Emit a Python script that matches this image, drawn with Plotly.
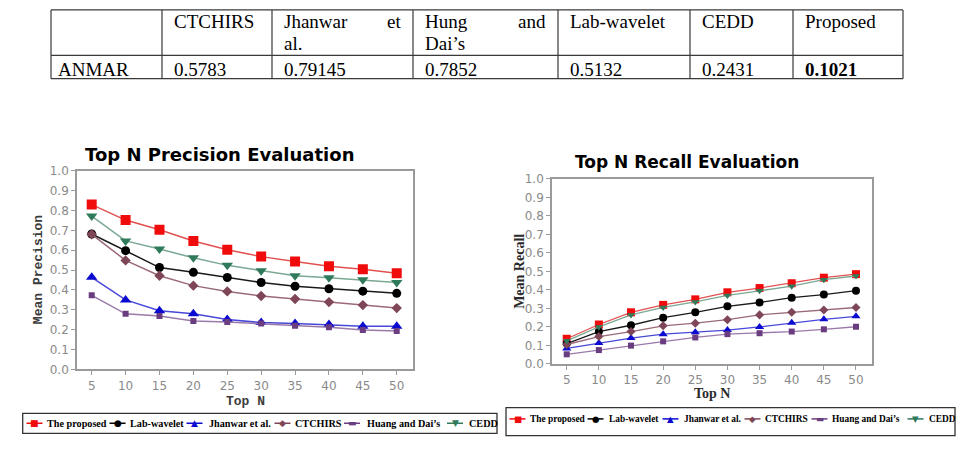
import plotly.graph_objects as go

# ---------------- data ----------------
table_header = ["", "CTCHIRS", "Jhanwar et al.", "Hung and Dai’s", "Lab-wavelet", "CEDD", "Proposed"]
table_row_label = "ANMAR"
table_values = ["0.5783", "0.79145", "0.7852", "0.5132", "0.2431", "0.1021"]

top_n = [5, 10, 15, 20, 25, 30, 35, 40, 45, 50]
series_names = ["The proposed", "Lab-wavelet", "Jhanwar et al.", "CTCHIRS", "Huang and Dai’s", "CEDD"]

prec_proposed = [0.830, 0.752, 0.703, 0.647, 0.603, 0.568, 0.544, 0.520, 0.505, 0.484]
prec_labwavelet = [0.682, 0.598, 0.513, 0.489, 0.463, 0.438, 0.419, 0.406, 0.394, 0.383]
prec_jhanwar = [0.464, 0.350, 0.296, 0.280, 0.251, 0.236, 0.231, 0.226, 0.218, 0.218]
prec_ctchirs = [0.680, 0.549, 0.472, 0.422, 0.393, 0.370, 0.355, 0.339, 0.324, 0.309]
prec_huang = [0.373, 0.280, 0.269, 0.244, 0.239, 0.231, 0.220, 0.212, 0.199, 0.194]
prec_cedd = [0.772, 0.647, 0.606, 0.562, 0.524, 0.497, 0.472, 0.462, 0.451, 0.438]

rec_proposed = [0.136, 0.213, 0.279, 0.319, 0.349, 0.387, 0.410, 0.436, 0.466, 0.485]
rec_labwavelet = [0.110, 0.175, 0.209, 0.250, 0.279, 0.311, 0.332, 0.358, 0.375, 0.396]
rec_jhanwar = [0.084, 0.113, 0.140, 0.161, 0.171, 0.183, 0.200, 0.222, 0.241, 0.257]
rec_ctchirs = [0.105, 0.148, 0.175, 0.206, 0.220, 0.239, 0.265, 0.279, 0.291, 0.305]
rec_huang = [0.052, 0.075, 0.099, 0.122, 0.143, 0.161, 0.166, 0.175, 0.187, 0.201]
rec_cedd = [0.125, 0.200, 0.265, 0.305, 0.335, 0.370, 0.395, 0.420, 0.455, 0.475]

precision = [prec_proposed, prec_labwavelet, prec_jhanwar, prec_ctchirs, prec_huang, prec_cedd]
recall = [rec_proposed, rec_labwavelet, rec_jhanwar, rec_ctchirs, rec_huang, rec_cedd]

# ---------------- styles ----------------
W, H = 966, 454
marker_colors = ["#f00c0c", "#000000", "#0a0ad0", "#7e4656", "#6a3c80", "#2f7a5a"]
line_colors = ["#e25050", "#1a1a1a", "#4848d8", "#9a6a78", "#9a7aaa", "#7aa893"]
symbols = ["square", "circle", "triangle-up", "diamond", "square", "triangle-down"]
sizes_left = [10, 9, 10, 8, 6, 10]
sizes_right = [8, 8, 8, 7, 6, 7]
legend_glyphs = ["■", "●", "▲", "◆", "▬", "▼"]


def px(x):
    return x / W


def py(y):
    return 1 - y / H


fig = go.Figure()

for i, name in enumerate(series_names):
    fig.add_trace(go.Scatter(
        x=top_n, y=precision[i], name=name, mode="lines+markers",
        xaxis="x", yaxis="y", showlegend=False,
        line=dict(color=line_colors[i], width=1.5),
        marker=dict(symbol=symbols[i], size=sizes_left[i], color=marker_colors[i], line=dict(width=0)),
    ))
for i, name in enumerate(series_names):
    fig.add_trace(go.Scatter(
        x=top_n, y=recall[i], name=name, mode="lines+markers",
        xaxis="x2", yaxis="y2", showlegend=False,
        line=dict(color=line_colors[i], width=1.3),
        marker=dict(symbol=symbols[i], size=sizes_right[i], color=marker_colors[i], line=dict(width=0)),
    ))

axis_common = dict(
    showgrid=False, zeroline=False, showline=True, mirror=True,
    linecolor="#9a9a9a", linewidth=1.6, ticks="outside", ticklen=4,
    tickcolor="#9a9a9a", tickwidth=1,
    tickfont=dict(family="DejaVu Sans", size=12, color="#8a8a8a"),
)

fig.update_layout(
    width=W, height=H, margin=dict(l=0, r=0, t=0, b=0),
    paper_bgcolor="white", plot_bgcolor="white", showlegend=False,
    xaxis=dict(domain=[px(77), px(413)], range=[2.83, 52.4], tickvals=top_n, anchor="y", **axis_common),
    yaxis=dict(domain=[py(374), py(169)], range=[0, 1.0], dtick=0.1, tickformat=".1f", anchor="x", **axis_common),
    xaxis2=dict(domain=[px(552), px(872)], range=[2.71, 52.49], tickvals=top_n, anchor="y2", **axis_common),
    yaxis2=dict(domain=[py(368.3), py(177.3)], range=[0, 1.0], dtick=0.1, tickformat=".1f", anchor="x2", **axis_common),
)

annotations = []
shapes = []


def add_text(x, y, text, size, family, color="black", xanchor="center", textangle=0):
    annotations.append(dict(
        x=px(x), y=py(y), xref="paper", yref="paper", text=text, showarrow=False,
        xanchor=xanchor, yanchor="middle", textangle=textangle,
        font=dict(family=family, size=size, color=color),
    ))


# ---------------- table ----------------
col_x = [51, 162, 272, 413, 558, 690, 793, 903]
row_y = [3, 50, 74]
tcol = "#3a3a3a"
for x in col_x:
    shapes.append(dict(type="line", xref="paper", yref="paper",
                       x0=px(x), x1=px(x), y0=py(row_y[0]), y1=py(row_y[-1]),
                       line=dict(color=tcol, width=1.2)))
for y in row_y:
    shapes.append(dict(type="line", xref="paper", yref="paper",
                       x0=px(col_x[0]), x1=px(col_x[-1]), y0=py(y), y1=py(y),
                       line=dict(color=tcol, width=1.2)))

tfont = "Liberation Serif"
tsize = 19
line1_y, line2_y, data_y = 14.5, 38, 64
for c, head in enumerate(table_header):
    if not head:
        continue
    left = col_x[c] + 10
    right = col_x[c + 1] - 10
    words = head.split()
    if len(words) == 3:
        add_text(left, line1_y, words[0], tsize, tfont, xanchor="left")
        add_text(right, line1_y, words[1], tsize, tfont, xanchor="right")
        add_text(left, line2_y, words[2], tsize, tfont, xanchor="left")
    else:
        add_text(left, line1_y, head, tsize, tfont, xanchor="left")

add_text(col_x[0] + 5, data_y, table_row_label, tsize, tfont, xanchor="left")
for c, v in enumerate(table_values):
    txt = "<b>%s</b>" % v if c == len(table_values) - 1 else v
    add_text(col_x[c + 1] + 10, data_y, txt, tsize, tfont, xanchor="left")

# ---------------- chart titles ----------------
add_text(219, 152, "<b>Top N Precision Evaluation</b>", 18, "DejaVu Sans")
add_text(687, 160, "<b>Top N Recall Evaluation</b>", 17, "DejaVu Sans")
add_text(38, 271.5, "<b>Mean Precision</b>", 13, "Liberation Mono", color="#3c3c3c", textangle=-90)
add_text(245, 407, "<b>Top N</b>", 13, "Liberation Mono", color="#3c3c3c")
add_text(520, 273.3, "<b>Mean Recall</b>", 14, "Liberation Serif", color="#2a2a2a", textangle=-90)
add_text(712, 399, "<b>Top N</b>", 14, "Liberation Serif", color="#2a2a2a")

# ---------------- legends (manual) ----------------
def add_legend(box, text_y, sym_x, text_x, fsize, gsize):
    x0, x1, y0, y1 = box
    shapes.append(dict(type="rect", xref="paper", yref="paper",
                       x0=px(x0), x1=px(x1), y0=py(y1), y1=py(y0),
                       line=dict(color="#333333", width=1.3), fillcolor="rgba(0,0,0,0)"))
    for i, name in enumerate(series_names):
        shapes.append(dict(type="line", xref="paper", yref="paper",
                           x0=px(sym_x[i] - 8), x1=px(sym_x[i] + 8), y0=py(text_y), y1=py(text_y),
                           line=dict(color=marker_colors[i], width=1.5)))
        add_text(sym_x[i], text_y, legend_glyphs[i], gsize, "DejaVu Sans", color=marker_colors[i])
        add_text(text_x[i], text_y, "<b>%s</b>" % name, fsize, "Liberation Serif", xanchor="left")


add_legend((22.7, 497, 419.3, 440), 429.5,
           [34.5, 117.5, 194.5, 282.5, 352, 455],
           [45, 128, 207, 293, 365, 467], 10.2, 9)
add_legend((506, 955, 413.3, 442.3), 425,
           [517.5, 595.5, 670.5, 752.5, 819.5, 915.5],
           [528, 607, 682, 763, 830, 927], 9.4, 8.5)

fig.update_layout(annotations=annotations, shapes=shapes)
fig.write_html("out.html")
